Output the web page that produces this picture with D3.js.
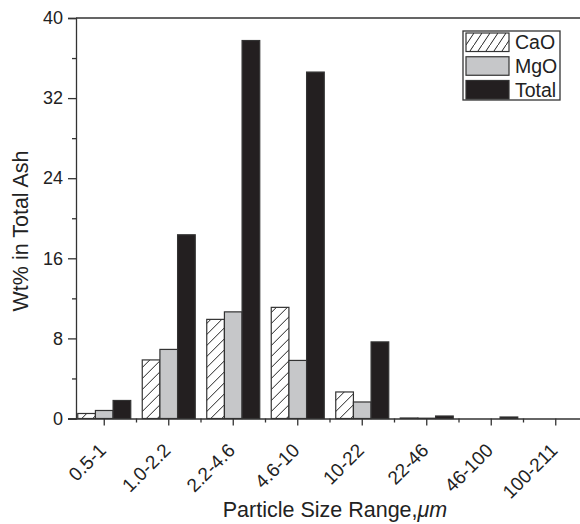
<!DOCTYPE html>
<html>
<head>
<meta charset="utf-8">
<script src="https://cdn.jsdelivr.net/npm/d3@7"></script>
<style>
  body { margin: 0; background: #fff; }
  svg { display: block; font-family: "Liberation Sans", Arial, sans-serif; }
  text { fill: #222; }
</style>
</head>
<body>
<svg width="580" height="524"></svg>
<script>
const ranges = ['0.5-1', '1.0-2.2', '2.2-4.6', '4.6-10', '10-22', '22-46', '46-100', '100-211'];
const seriesNames = ['CaO', 'MgO', 'Total'];
const cao   = [0.5, 5.85, 9.9, 11.1, 2.65, 0.05, 0, 0];
const mgo   = [0.8, 6.9, 10.65, 5.8, 1.65, 0.03, 0, 0];
const total = [1.8, 18.35, 37.75, 34.6, 7.65, 0.25, 0.15, 0];
const yMajor = [0, 8, 16, 24, 32, 40];
const yMinor = [4, 12, 20, 28, 36];

const svg = d3.select('svg');
const axisColor = '#333';

const plotLeft = 76, plotRight = 584, plotTop = 18, plotBottom = 418.5;

const x = d3.scaleBand()
  .domain(ranges)
  .range([72, 588])
  .padding(0);

const sub = d3.scaleBand()
  .domain(seriesNames)
  .range([-26.5, 26.5]);

const y = d3.scaleLinear()
  .domain([0, 40])
  .range([plotBottom, plotTop]);

// hatch patterns for CaO (bars a bit wider spaced than the legend swatch)
const defs = svg.append('defs');
const hatch = (id, w, h) => {
  defs.append('pattern')
      .attr('id', id)
      .attr('patternUnits', 'userSpaceOnUse')
      .attr('width', w)
      .attr('height', h)
    .append('path')
      .attr('d', `M${-w},${2 * h} L${2 * w},${-h} M${-2 * w},${h} L${w},${-2 * h} M0,${3 * h} L${3 * w},0`)
      .attr('stroke', '#222')
      .attr('stroke-width', 1);
};
hatch('hatch', 11, 11);
hatch('hatchLegend', 8, 12);

const fills = { CaO: '#fff', MgO: '#c6c7c9', Total: '#231f20' };
const table = ranges.map((r, i) => ({ range: r, CaO: cao[i], MgO: mgo[i], Total: total[i] }));

// bars
const groups = svg.append('g')
  .selectAll('g')
  .data(table)
  .enter().append('g')
    .attr('transform', d => `translate(${x(d.range) + x.bandwidth() / 2},0)`);

seriesNames.forEach(s => {
  groups.append('rect')
      .attr('x', sub(s))
      .attr('width', sub.bandwidth())
      .attr('y', d => y(d[s]))
      .attr('height', d => y(0) - y(d[s]))
      .attr('fill', s === 'CaO' ? 'url(#hatch)' : fills[s])
      .attr('stroke', d => d[s] > 0 ? axisColor : 'none')
      .attr('stroke-width', 1.2);
});

// frame top / right
svg.append('path')
  .attr('d', `M${plotLeft},${plotTop} H${plotRight} V${plotBottom}`)
  .attr('fill', 'none')
  .attr('stroke', axisColor)
  .attr('stroke-width', 1.3);

// y axis
const yAxisG = svg.append('g')
  .attr('transform', `translate(${plotLeft},0)`)
  .call(d3.axisLeft(y).tickValues(yMajor).tickSize(8).tickPadding(5).tickFormat(d3.format('d')));
yAxisG.select('.domain').attr('stroke', axisColor).attr('stroke-width', 1.3);
yAxisG.selectAll('.tick line').attr('stroke', axisColor).attr('stroke-width', 1.3);
yAxisG.selectAll('.tick text').attr('font-size', 18).attr('fill', '#222').attr('font-family', null);

const yMinorG = svg.append('g')
  .attr('transform', `translate(${plotLeft},0)`)
  .call(d3.axisLeft(y).tickValues(yMinor).tickSize(4).tickFormat(''));
yMinorG.select('.domain').remove();
yMinorG.selectAll('.tick line').attr('stroke', axisColor).attr('stroke-width', 1.3);

// x axis
const xAxisG = svg.append('g')
  .attr('transform', `translate(0,${plotBottom})`)
  .call(d3.axisBottom(x).tickSize(7).tickSizeOuter(0).tickFormat(''));
xAxisG.select('.domain').attr('d', `M${plotLeft - 8},0.5H${plotRight}`)
  .attr('stroke', axisColor).attr('stroke-width', 1.3);
xAxisG.selectAll('.tick line').attr('stroke', axisColor).attr('stroke-width', 1.3);

const xMinorG = svg.append('g')
  .attr('transform', `translate(0,${plotBottom})`);
xMinorG.selectAll('line')
  .data(ranges.slice(0, -1))
  .enter().append('line')
    .attr('x1', d => x(d) + x.bandwidth())
    .attr('x2', d => x(d) + x.bandwidth())
    .attr('y1', 0)
    .attr('y2', 4)
    .attr('stroke', axisColor)
    .attr('stroke-width', 1.3);

svg.append('g')
  .selectAll('text')
  .data(ranges)
  .enter().append('text')
    .attr('transform', d => `translate(${x(d) + x.bandwidth() / 2 + 3},${plotBottom + 33}) rotate(-45)`)
    .attr('text-anchor', 'end')
    .attr('font-size', 19)
    .text(d => d);

// axis titles
svg.append('text')
  .attr('transform', `translate(28,231) rotate(-90)`)
  .attr('text-anchor', 'middle')
  .attr('font-size', 21.5)
  .text('Wt% in Total Ash');

const xTitle = svg.append('text')
  .attr('x', 335)
  .attr('y', 517)
  .attr('text-anchor', 'middle')
  .attr('font-size', 21.5);
xTitle.append('tspan').text('Particle Size Range,');
xTitle.append('tspan').attr('font-style', 'italic').text('\u03bcm');

// legend
const legend = svg.append('g').attr('transform', 'translate(463,31)');
legend.append('rect')
  .attr('width', 97).attr('height', 69)
  .attr('fill', '#fff').attr('stroke', axisColor).attr('stroke-width', 1.3);

const legendRow = d3.scaleBand().domain(seriesNames).range([2, 68]).paddingInner(0.22);
const rows = legend.selectAll('g.row')
  .data(seriesNames)
  .enter().append('g')
    .attr('class', 'row')
    .attr('transform', d => `translate(3,${legendRow(d)})`);
rows.append('rect')
  .attr('width', 43).attr('height', legendRow.bandwidth())
  .attr('fill', d => d === 'CaO' ? 'url(#hatchLegend)' : fills[d])
  .attr('stroke', axisColor).attr('stroke-width', 1.2);
rows.append('text')
  .attr('x', 49)
  .attr('y', legendRow.bandwidth() / 2 + 7)
  .attr('font-size', 19.5)
  .text(d => d);
</script>
</body>
</html>
